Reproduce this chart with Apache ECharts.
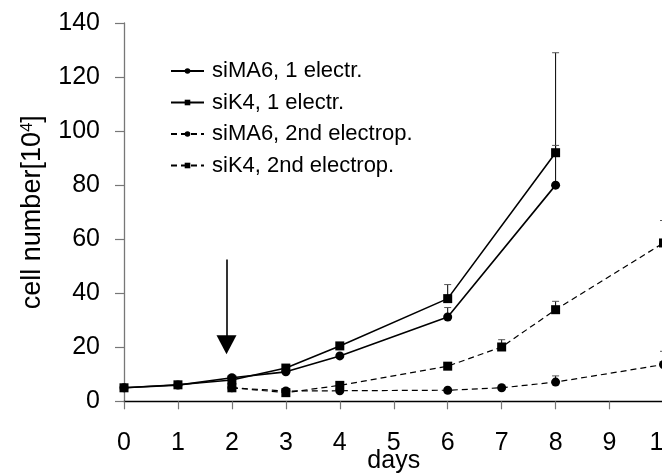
<!DOCTYPE html>
<html>
<head>
<meta charset="utf-8">
<script src="https://cdn.jsdelivr.net/npm/echarts@6/dist/echarts.min.js"></script>
<style>
  html, body { margin: 0; padding: 0; background: #fff; }
  #chart { width: 662px; height: 474px; }
</style>
</head>
<body>
<div id="chart"></div>
<script>
// days and cell numbers [10^4]
const dayTicks = [0, 1, 2, 3, 4, 5, 6, 7, 8, 9, 10];

const siMA6First = [[0, 5], [1, 6], [2, 8.7], [3, 10.9], [4, 16.8], [6, 31.2], [8, 80]];
const siK4First = [[0, 5], [1, 6.1], [2, 7.9], [3, 12.3], [4, 20.5], [6, 38], [8, 92]];
const siMA6Second = [[2, 5], [3, 3.8], [4, 3.9], [6, 4.1], [7, 5], [8, 7.1], [10, 13.6]];
const siK4Second = [[2, 5], [3, 3.2], [4, 5.9], [6, 13], [7, 20.1], [8, 33.9], [10, 58.6]];

// upper error bars: [day, value, value + sd]
const errorBars = [
    [6, 38, 43.2], [8, 92, 129],
    [6, 31.2, 34.7], [8, 80, 94.7],
    [7, 20.1, 22.8], [8, 33.9, 37], [10, 58.6, 66.9],
    [8, 7.1, 9.4], [10, 13.6, 18.5],
];

// arrow marking the 2nd electroporation
const arrowFrom = [1.9, 52.5];
const arrowTo = [1.9, 20.9];

const font = "Liberation Sans, Arial, sans-serif";

function lineSeries(name, data, symbol, dashed) {
    return {
        name: name,
        type: "line",
        data: data,
        symbol: symbol,
        symbolSize: 9,
        z: 3,
        itemStyle: { color: "#000" },
        lineStyle: {
            color: "#000",
            width: dashed ? 1.2 : 1.6,
            type: dashed ? [6, 4] : "solid",
        },
        emphasis: { disabled: true },
    };
}

const chart = echarts.init(document.getElementById("chart"));

const series = [
    lineSeries("siMA6, 1 electr.", siMA6First, "circle", false),
    lineSeries("siK4, 1 electr.", siK4First, "rect", false),
    lineSeries("siMA6, 2nd electrop.", siMA6Second, "circle", true),
    lineSeries("siK4, 2nd electrop.", siK4Second, "rect", true),
    {
        type: "custom",
        z: 2,
        data: errorBars,
        renderItem: function (params, api) {
            const base = api.coord([api.value(0), api.value(1)]);
            const top = api.coord([api.value(0), api.value(2)]);
            const cap = 3.5;
            return {
                type: "group",
                children: [
                    {
                        type: "line",
                        shape: { x1: base[0], y1: base[1], x2: top[0], y2: top[1] },
                        style: { stroke: "#000", lineWidth: 1 },
                    },
                    {
                        type: "line",
                        shape: { x1: top[0] - cap, y1: top[1], x2: top[0] + cap, y2: top[1] },
                        style: { stroke: "#555", lineWidth: 1 },
                    },
                ],
            };
        },
    },
];

// arrow drawn as a markLine on the first series
series[0].markLine = {
    silent: true,
    symbol: ["none", "triangle"],
    symbolSize: [20, 19],
    label: { show: false },
    lineStyle: { color: "#000", width: 1.6, type: "solid" },
    data: [[{ coord: arrowFrom }, { coord: arrowTo }]],
};

const option = {
    animation: false,
    textStyle: { fontFamily: font },
    grid: { left: 124, right: -1.5, top: 23, bottom: 72.7, outerBoundsMode: "none", containLabel: false },
    legend: {
        orient: "vertical",
        left: 165,
        top: 55,
        itemWidth: 33,
        itemHeight: 7,
        itemGap: 9.5,
        data: series.slice(0, 4).map((s) => s.name),
        textStyle: { fontFamily: font, fontSize: 22, color: "#000", padding: [0, 0, 0, 3] },
        selectedMode: false,
    },
    xAxis: {
        type: "value",
        min: dayTicks[0],
        max: dayTicks[dayTicks.length - 1],
        interval: 1,
        name: "days",
        nameLocation: "middle",
        nameGap: 47,
        nameMoveOverlap: false,
        nameTextStyle: { fontFamily: font, fontSize: 25, color: "#000" },
        axisLine: { lineStyle: { color: "#000", width: 1.3 } },
        axisTick: { show: true, inside: false, length: 8, lineStyle: { color: "#777", width: 1.2 } },
        axisLabel: { fontFamily: font, fontSize: 25, color: "#000", margin: 29 },
        splitLine: { show: false },
    },
    yAxis: {
        type: "value",
        min: 0,
        max: 140,
        interval: 20,
        name: "{a|cell number[10}{s|4}{a|]}",
        nameLocation: "middle",
        nameGap: 78,
        nameRotate: 90,
        nameMoveOverlap: false,
        nameTextStyle: {
            rich: {
                a: { fontFamily: font, fontSize: 27, color: "#000" },
                s: { fontFamily: font, fontSize: 17, color: "#000", verticalAlign: "top", padding: [0, 0, 10, 0] },
            },
        },
        axisLine: { show: true, lineStyle: { color: "#777", width: 1.3 } },
        axisTick: { show: true, length: 9, lineStyle: { color: "#777", width: 1.2 } },
        axisLabel: { fontFamily: font, fontSize: 25, color: "#000", margin: 24 },
        splitLine: { show: false },
    },
    series: series,
};

chart.setOption(option);
</script>
</body>
</html>
